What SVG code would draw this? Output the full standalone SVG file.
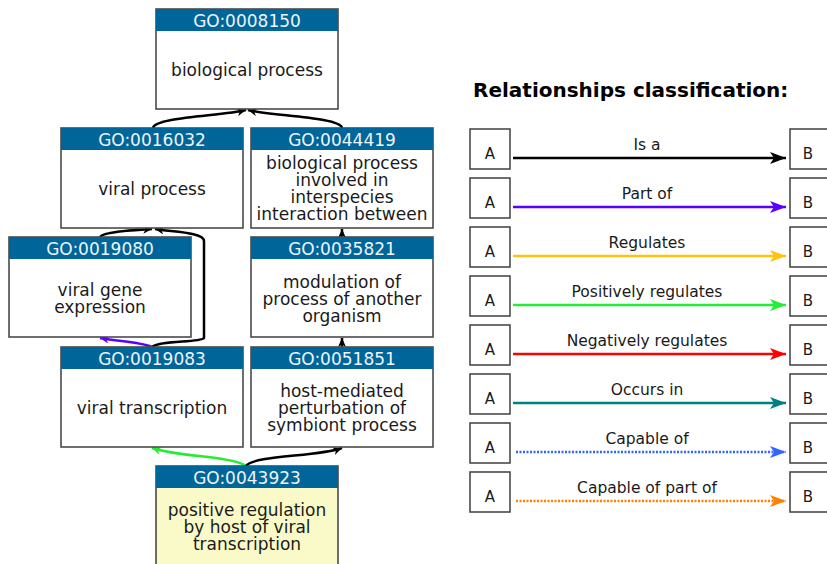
<svg xmlns="http://www.w3.org/2000/svg" width="827" height="564" viewBox="0 0 827 564">
  <style>
    .box { fill: #ffffff; stroke: #4a4a4a; stroke-width: 1.6; }
    .box.focus { fill: #fafac8; }
    .hdr { fill: #006699; }
    .id { font-family: "DejaVu Sans", sans-serif; font-size: 17px; fill: #eef4f8; text-anchor: middle; }
    .lbl { font-family: "DejaVu Sans", sans-serif; font-size: 17px; fill: #1a1a1a; text-anchor: middle; }
    .edge { fill: none; stroke-width: 2.5; }
    .title { font-family: "DejaVu Sans", sans-serif; font-weight: bold; font-size: 20px; fill: #000; }
    .key { fill: #ffffff; stroke: #4a4a4a; stroke-width: 1.6; }
    .keytxt { font-family: "DejaVu Sans", sans-serif; font-size: 15px; fill: #1a1a1a; text-anchor: middle; }
    .rel { font-family: "DejaVu Sans", sans-serif; font-size: 15.5px; fill: #1a1a1a; text-anchor: middle; }
    .line { fill: none; stroke-width: 2.6; }
    .dot { stroke-dasharray: 2 1.5; }
  </style>
  <defs>
    <marker id="hs-black" markerUnits="userSpaceOnUse" markerWidth="10" markerHeight="8" refX="9" refY="4" orient="auto">
      <path d="M0,0 L9,4 L0,8 L2.5,4 z" fill="#000"/>
    </marker>
    <marker id="hs-purple" markerUnits="userSpaceOnUse" markerWidth="10" markerHeight="8" refX="9" refY="4" orient="auto">
      <path d="M0,0 L9,4 L0,8 L2.5,4 z" fill="#5a00ff"/>
    </marker>
    <marker id="hs-green" markerUnits="userSpaceOnUse" markerWidth="10" markerHeight="8" refX="9" refY="4" orient="auto">
      <path d="M0,0 L9,4 L0,8 L2.5,4 z" fill="#22ee33"/>
    </marker>
    <marker id="hl-black" markerUnits="userSpaceOnUse" markerWidth="17" markerHeight="12" refX="16" refY="6" orient="auto">
      <path d="M0,0 L16,6 L0,12 L4,6 z" fill="#000"/>
    </marker>
    <marker id="hl-purple" markerUnits="userSpaceOnUse" markerWidth="17" markerHeight="12" refX="16" refY="6" orient="auto">
      <path d="M0,0 L16,6 L0,12 L4,6 z" fill="#5a00ff"/>
    </marker>
    <marker id="hl-gold" markerUnits="userSpaceOnUse" markerWidth="17" markerHeight="12" refX="16" refY="6" orient="auto">
      <path d="M0,0 L16,6 L0,12 L4,6 z" fill="#ffc20e"/>
    </marker>
    <marker id="hl-green" markerUnits="userSpaceOnUse" markerWidth="17" markerHeight="12" refX="16" refY="6" orient="auto">
      <path d="M0,0 L16,6 L0,12 L4,6 z" fill="#22ee33"/>
    </marker>
    <marker id="hl-red" markerUnits="userSpaceOnUse" markerWidth="17" markerHeight="12" refX="16" refY="6" orient="auto">
      <path d="M0,0 L16,6 L0,12 L4,6 z" fill="#ff0000"/>
    </marker>
    <marker id="hl-teal" markerUnits="userSpaceOnUse" markerWidth="17" markerHeight="12" refX="16" refY="6" orient="auto">
      <path d="M0,0 L16,6 L0,12 L4,6 z" fill="#008080"/>
    </marker>
    <marker id="hl-blue" markerUnits="userSpaceOnUse" markerWidth="17" markerHeight="12" refX="16" refY="6" orient="auto">
      <path d="M0,0 L16,6 L0,12 L4,6 z" fill="#3366ff"/>
    </marker>
    <marker id="hl-orange" markerUnits="userSpaceOnUse" markerWidth="17" markerHeight="12" refX="16" refY="6" orient="auto">
      <path d="M0,0 L16,6 L0,12 L4,6 z" fill="#ff8000"/>
    </marker>
  </defs>

  <rect width="827" height="564" fill="#ffffff"/>

  <!-- GO term graph: edges -->
  <g id="edges">
    <path class="edge" stroke="#000" marker-end="url(#hs-black)" d="M153,128 C155,117 222,116 246,110"/>
    <path class="edge" stroke="#000" marker-end="url(#hs-black)" d="M342,128 C340,117 272,116 248,110"/>
    <path class="edge" stroke="#000" marker-end="url(#hs-black)" d="M100,237 C104,231 138,230 152,229"/>
    <path class="edge" stroke="#000" marker-end="url(#hs-black)" d="M152,347 C160,340 200,343 204,338 L204,241 C204,232 172,232 155,229"/>
    <path class="edge" stroke="#5a00ff" marker-end="url(#hs-purple)" d="M152,347 C142,342 116,341 100,338"/>
    <path class="edge" stroke="#000" marker-end="url(#hs-black)" d="M342,237 L342,229"/>
    <path class="edge" stroke="#000" marker-end="url(#hs-black)" d="M342,347 L342,338"/>
    <path class="edge" stroke="#22ee33" marker-end="url(#hs-green)" d="M246,466 C232,456 178,457 152,448"/>
    <path class="edge" stroke="#000" marker-end="url(#hs-black)" d="M246,466 C254,455 318,457 342,448"/>
  </g>

  <!-- GO term graph: nodes -->
  <g id="go0008150">
    <rect class="box" x="156" y="9" width="182" height="100"/>
    <rect class="hdr" x="156" y="9" width="182" height="22"/>
    <text class="id" x="247" y="26.5">GO:0008150</text>
    <text class="lbl" x="247" y="76">biological process</text>
  </g>
  <g id="go0016032">
    <rect class="box" x="61" y="128" width="182" height="100"/>
    <rect class="hdr" x="61" y="128" width="182" height="22"/>
    <text class="id" x="152" y="145.5">GO:0016032</text>
    <text class="lbl" x="152" y="195">viral process</text>
  </g>
  <g id="go0044419">
    <rect class="box" x="251" y="128" width="182" height="100"/>
    <rect class="hdr" x="251" y="128" width="182" height="22"/>
    <text class="id" x="342" y="145.5">GO:0044419</text>
    <text class="lbl" x="342" y="169">biological process</text>
    <text class="lbl" x="342" y="186">involved in</text>
    <text class="lbl" x="342" y="203">interspecies</text>
    <text class="lbl" x="342" y="220">interaction between</text>
  </g>
  <g id="go0019080">
    <rect class="box" x="9" y="237" width="182" height="100"/>
    <rect class="hdr" x="9" y="237" width="182" height="22"/>
    <text class="id" x="100" y="254.5">GO:0019080</text>
    <text class="lbl" x="100" y="296">viral gene</text>
    <text class="lbl" x="100" y="313">expression</text>
  </g>
  <g id="go0035821">
    <rect class="box" x="251" y="237" width="182" height="100"/>
    <rect class="hdr" x="251" y="237" width="182" height="22"/>
    <text class="id" x="342" y="254.5">GO:0035821</text>
    <text class="lbl" x="342" y="288">modulation of</text>
    <text class="lbl" x="342" y="305">process of another</text>
    <text class="lbl" x="342" y="322">organism</text>
  </g>
  <g id="go0019083">
    <rect class="box" x="61" y="347" width="182" height="100"/>
    <rect class="hdr" x="61" y="347" width="182" height="22"/>
    <text class="id" x="152" y="364.5">GO:0019083</text>
    <text class="lbl" x="152" y="414">viral transcription</text>
  </g>
  <g id="go0051851">
    <rect class="box" x="251" y="347" width="182" height="100"/>
    <rect class="hdr" x="251" y="347" width="182" height="22"/>
    <text class="id" x="342" y="364.5">GO:0051851</text>
    <text class="lbl" x="342" y="397">host-mediated</text>
    <text class="lbl" x="342" y="414">perturbation of</text>
    <text class="lbl" x="342" y="431">symbiont process</text>
  </g>
  <g id="go0043923">
    <rect class="box focus" x="156" y="466" width="182" height="102"/>
    <rect class="hdr" x="156" y="466" width="182" height="22"/>
    <text class="id" x="247" y="483.5">GO:0043923</text>
    <text class="lbl" x="247" y="516">positive regulation</text>
    <text class="lbl" x="247" y="533">by host of viral</text>
    <text class="lbl" x="247" y="550">transcription</text>
  </g>

  <!-- Legend -->
  <g id="legend">
    <text class="title" x="473" y="97">Relationships classification:</text>

    <g id="key-is-a">
      <rect class="key" x="470" y="129" width="40" height="40"/>
      <text class="keytxt" x="490" y="159">A</text>
      <rect class="key" x="790" y="129" width="40" height="40"/>
      <text class="keytxt" x="808" y="159">B</text>
      <text class="rel" x="647" y="150">Is a</text>
      <line class="line" stroke="#000" x1="513" y1="158" x2="786" y2="158" marker-end="url(#hl-black)"/>
    </g>
    <g id="key-part-of">
      <rect class="key" x="470" y="178" width="40" height="40"/>
      <text class="keytxt" x="490" y="208">A</text>
      <rect class="key" x="790" y="178" width="40" height="40"/>
      <text class="keytxt" x="808" y="208">B</text>
      <text class="rel" x="647" y="199">Part of</text>
      <line class="line" stroke="#5a00ff" x1="513" y1="207" x2="786" y2="207" marker-end="url(#hl-purple)"/>
    </g>
    <g id="key-regulates">
      <rect class="key" x="470" y="227" width="40" height="40"/>
      <text class="keytxt" x="490" y="257">A</text>
      <rect class="key" x="790" y="227" width="40" height="40"/>
      <text class="keytxt" x="808" y="257">B</text>
      <text class="rel" x="647" y="248">Regulates</text>
      <line class="line" stroke="#ffc20e" x1="513" y1="256" x2="786" y2="256" marker-end="url(#hl-gold)"/>
    </g>
    <g id="key-pos-reg">
      <rect class="key" x="470" y="276" width="40" height="40"/>
      <text class="keytxt" x="490" y="306">A</text>
      <rect class="key" x="790" y="276" width="40" height="40"/>
      <text class="keytxt" x="808" y="306">B</text>
      <text class="rel" x="647" y="297">Positively regulates</text>
      <line class="line" stroke="#22ee33" x1="513" y1="305" x2="786" y2="305" marker-end="url(#hl-green)"/>
    </g>
    <g id="key-neg-reg">
      <rect class="key" x="470" y="325" width="40" height="40"/>
      <text class="keytxt" x="490" y="355">A</text>
      <rect class="key" x="790" y="325" width="40" height="40"/>
      <text class="keytxt" x="808" y="355">B</text>
      <text class="rel" x="647" y="346">Negatively regulates</text>
      <line class="line" stroke="#ff0000" x1="513" y1="354" x2="786" y2="354" marker-end="url(#hl-red)"/>
    </g>
    <g id="key-occurs-in">
      <rect class="key" x="470" y="374" width="40" height="40"/>
      <text class="keytxt" x="490" y="404">A</text>
      <rect class="key" x="790" y="374" width="40" height="40"/>
      <text class="keytxt" x="808" y="404">B</text>
      <text class="rel" x="647" y="395">Occurs in</text>
      <line class="line" stroke="#008080" x1="513" y1="403" x2="786" y2="403" marker-end="url(#hl-teal)"/>
    </g>
    <g id="key-capable-of">
      <rect class="key" x="470" y="423" width="40" height="40"/>
      <text class="keytxt" x="490" y="453">A</text>
      <rect class="key" x="790" y="423" width="40" height="40"/>
      <text class="keytxt" x="808" y="453">B</text>
      <text class="rel" x="647" y="444">Capable of</text>
      <line class="line dot" stroke="#3366ff" x1="516" y1="452" x2="786" y2="452" marker-end="url(#hl-blue)"/>
    </g>
    <g id="key-capable-part-of">
      <rect class="key" x="470" y="472" width="40" height="40"/>
      <text class="keytxt" x="490" y="502">A</text>
      <rect class="key" x="790" y="472" width="40" height="40"/>
      <text class="keytxt" x="808" y="502">B</text>
      <text class="rel" x="647" y="493">Capable of part of</text>
      <line class="line dot" stroke="#ff8000" x1="516" y1="501" x2="786" y2="501" marker-end="url(#hl-orange)"/>
    </g>
  </g>
</svg>
